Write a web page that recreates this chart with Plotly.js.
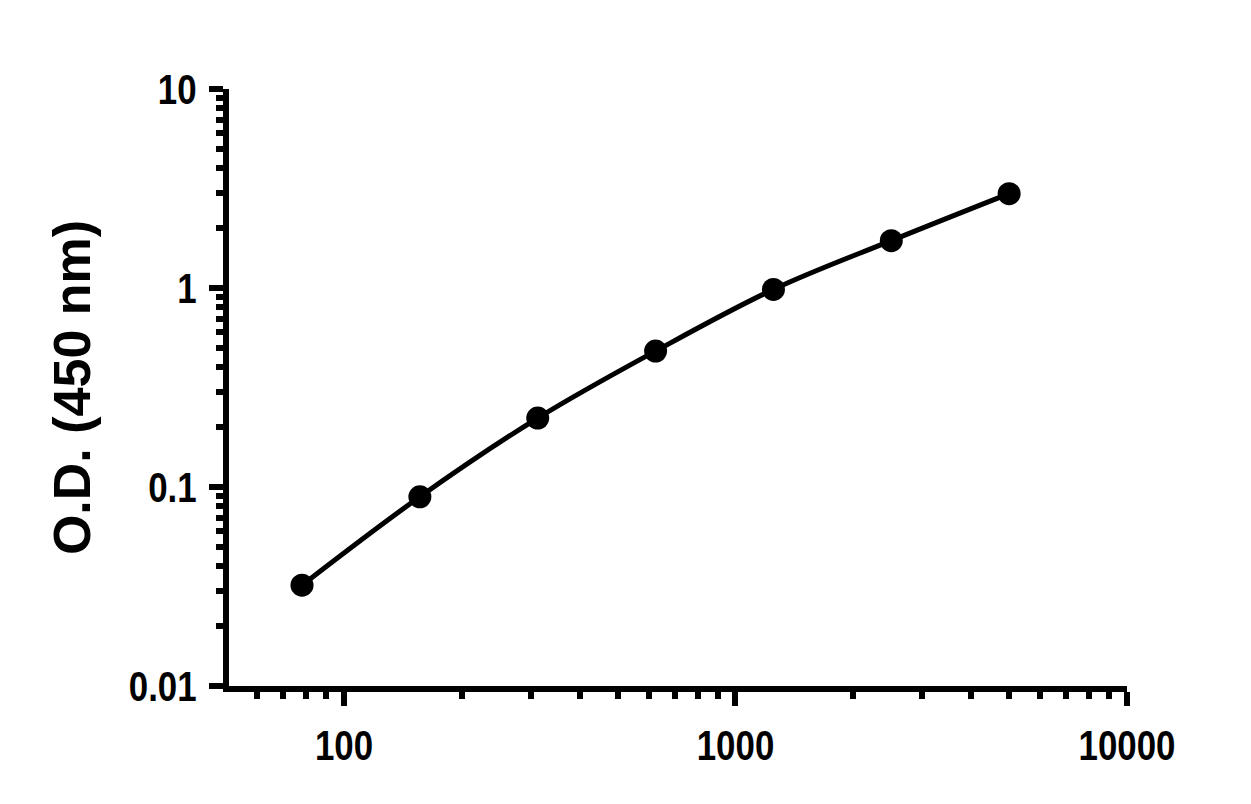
<!DOCTYPE html>
<html>
<head>
<meta charset="utf-8">
<script src="https://cdn.plot.ly/plotly-3.0.1.min.js"></script>
<style>
html,body{margin:0;padding:0;background:#fff;}
#chart{width:1251px;height:804px;}
</style>
</head>
<body>
<div id="chart"></div>
<script>
// Data
const concentration = [78.125, 156.25, 312.5, 625, 1250, 2500, 5000];
const odValues = [0.0321, 0.0893, 0.222, 0.482, 0.984, 1.73, 2.98];
const yTickVals = [0.01, 0.1, 1, 10];
const yTickText = ['0.01', '0.1', '1', '10'];
const xTickVals = [100, 1000, 10000];
const xTickText = ['100', '1000', '10000'];
const yTitle = 'O.D. (450 nm)';

const tickFont = {family: '"Liberation Sans", Arial, sans-serif', size: 42, color: '#000', weight: 'bold'};

const trace = {
  x: concentration,
  y: odValues,
  type: 'scatter',
  mode: 'lines+markers',
  line: {color: '#000', width: 5, shape: 'spline', smoothing: 1},
  marker: {color: '#000', size: 23},
  hoverinfo: 'x+y'
};

const axisCommon = {
  showline: true,
  linecolor: '#000',
  linewidth: 6,
  showgrid: false,
  zeroline: false,
  ticks: 'outside',
  tickcolor: '#000',
  tickwidth: 6,
  ticklen: 14,
  tickfont: tickFont,
  tickmode: 'array',
  minor: {ticks: 'outside', ticklen: 7, tickwidth: 6, tickcolor: '#000', dtick: 'D1', showgrid: false}
};

const layout = {
  width: 1251,
  height: 804,
  margin: {l: 229, r: 124, t: 89, b: 118},
  paper_bgcolor: '#fff',
  plot_bgcolor: '#fff',
  showlegend: false,
  xaxis: Object.assign({}, axisCommon, {
    type: 'log',
    range: [1.7063, 4],
    tickvals: xTickVals,
    ticktext: xTickText,
    ticklabelstandoff: 4
  }),
  yaxis: Object.assign({}, axisCommon, {
    type: 'log',
    range: [-2, 1],
    tickvals: yTickVals,
    ticktext: yTickText,
    ticklabelstandoff: 4,
    title: {text: yTitle, font: {family: '"Liberation Sans", Arial, sans-serif', size: 52, color: '#000', weight: 'bold'}, standoff: 10}
  })
};

function condenseTickLabels() {
  document.querySelectorAll('#chart .xtick text, #chart .ytick text').forEach(function (t) {
    const w = t.getComputedTextLength();
    if (w > 0) {
      t.setAttribute('textLength', (w * 0.83).toFixed(2));
      t.setAttribute('lengthAdjust', 'spacingAndGlyphs');
    }
  });
}

Plotly.newPlot('chart', [trace], layout, {displayModeBar: false, staticPlot: true}).then(condenseTickLabels);
</script>
</body>
</html>
